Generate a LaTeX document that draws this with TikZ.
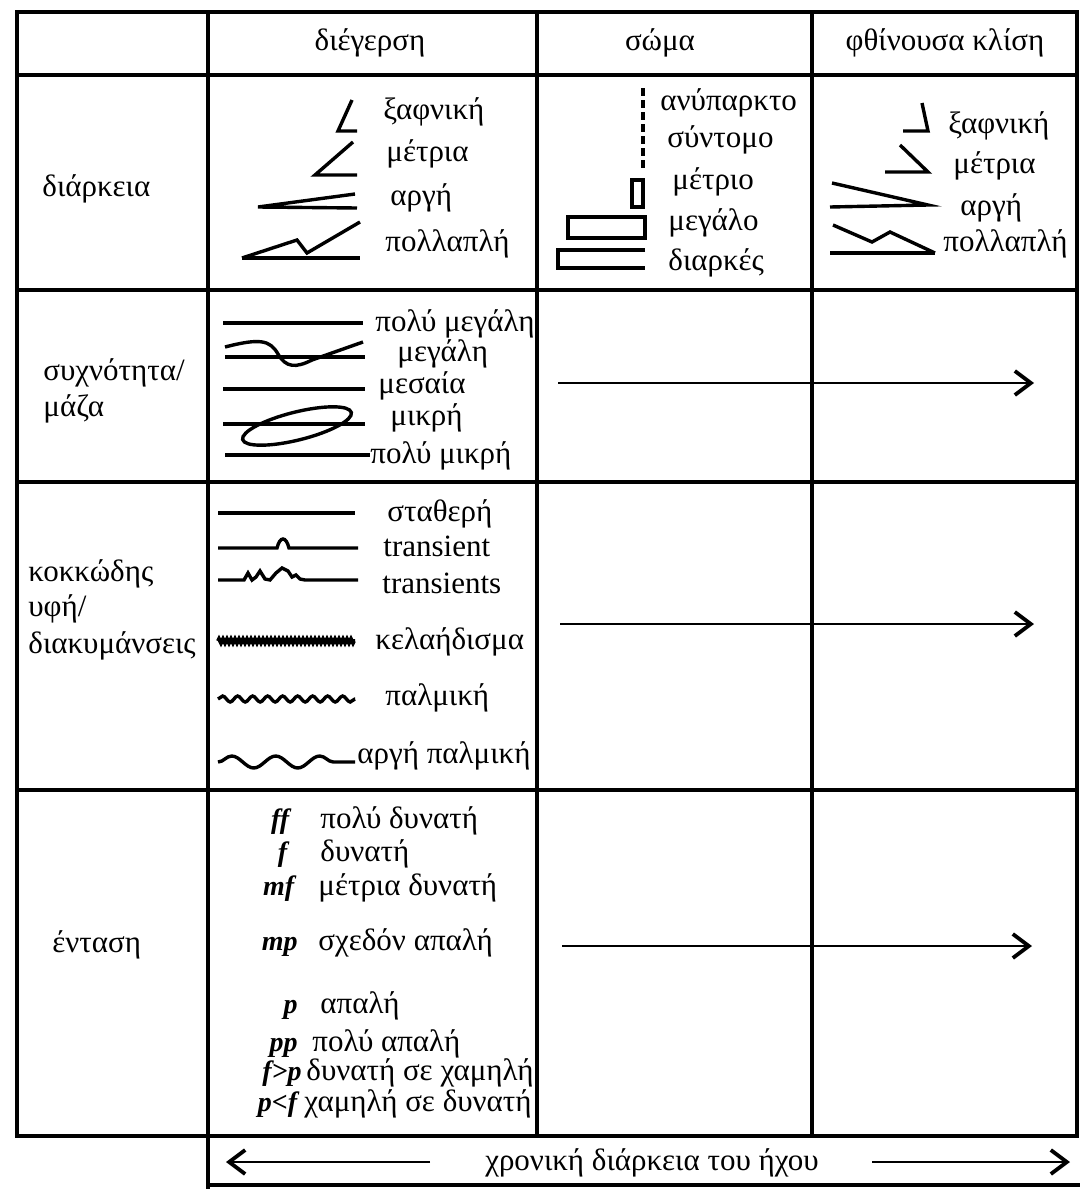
\documentclass[tikz,border=0pt]{standalone}
\usepackage{fontspec}
\setmainfont{Liberation Serif}
\usepackage{tikz}
\usetikzlibrary{arrows.meta,positioning}
\usetikzlibrary{decorations.pathmorphing}
\newcommand\lsz{\fontsize{15.5}{18}\selectfont}
\newcommand\dsz{\fontsize{14}{16}\selectfont}
\newcommand\dyn[1]{\textbf{\textit{#1}}}

\begin{document}
\begin{tikzpicture}[x=0.5pt,y=-0.5pt,
        grid/.style={line width=1.6pt},
        sym/.style={line width=1.7pt},
        flow/.style={line width=1.4pt,-{Straight Barb[length=8pt,width=12pt,line width=1.9pt]}}]%
        \useasboundingbox (0,0) rectangle (1080,1189); %%
        % table
        \draw[grid] (17,12) rectangle (1077,1136); %%
        \draw[grid] (208,12)--(208,1189); %%
        \draw[grid] (537,12)--(537,1136); %%
        \draw[grid] (812,12)--(812,1136); %%
        \draw[grid] (208,1185)--(1080,1185); %%
        \foreach \y in {75,290,482,790}
          \draw[grid] (17,\y)--(1077,\y); %%
        % heads
        \begin{scope}
        \tikzstyle{every node}=[font=\lsz,text height=0.75em,text depth=0.25em,yshift=-1.5pt] %%
        \node (hon) at (370,42)  {διέγερση}; %%
        \node (hbo) at (660,42)  {σώμα}; %%
        \node (hde) at (945,42)  {φθίνουσα κλίση}; %%
        \node (tim) at (652,1162)  {χρονική διάρκεια του ήχου}; %%
        \end{scope}
        \begin{scope}
        \tikzstyle{every node}=[anchor=west,inner sep=0pt,font=\lsz,text height=0.75em,text depth=0.25em,yshift=-1.5pt] %%
        \node (dur) at (42,188)  {διάρκεια}; %%
        \node (frq) at (43,372)  {συχνότητα/}; %%
        \node (frq2) at (43,408)  {μάζα}; %%
        \node (grn) at (28,573)  {κοκκώδης}; %%
        \node (grn2) at (28,608)  {υφή/}; %%
        \node (grn3) at (28,645)  {διακυμάνσεις}; %%
        \node (int) at (52,944)  {ένταση}; %%
        % onset / duration
        \node (d1) at (383,111)  {ξαφνική}; %%
        \node (d2) at (386,153)  {μέτρια}; %%
        \node (d3) at (390,197)  {αργή}; %%
        \node (d4) at (385,243)  {πολλαπλή}; %%
        % body / duration
        \node (b1) at (660,102)  {ανύπαρκτο}; %%
        \node (b2) at (667,139)  {σύντομο}; %%
        \node (b3) at (672,181)  {μέτριο}; %%
        \node (b4) at (668,222)  {μεγάλο}; %%
        \node (b5) at (668,262)  {διαρκές}; %%
        % decay / duration
        \node (e1) at (948,125)  {ξαφνική}; %%
        \node (e2) at (953,165)  {μέτρια}; %%
        \node (e3) at (960,207)  {αργή}; %%
        \node (e4) at (943,243)  {πολλαπλή}; %%
        % onset / frequency
        \node (f1) at (375,323)  {πολύ μεγάλη}; %%
        \node (f2) at (397,353)  {μεγάλη}; %%
        \node (f3) at (378,385)  {μεσαία}; %%
        \node (f4) at (390,417)  {μικρή}; %%
        \node (f5) at (370,455)  {πολύ μικρή}; %%
        % onset / grain
        \node (g1) at (387,513)  {σταθερή}; %%
        \node (g2) at (383,548)  {transient}; %%
        \node (g3) at (382,585)  {transients}; %%
        \node (g4) at (375,641)  {κελαήδισμα}; %%
        \node (g5) at (385,697)  {παλμική}; %%
        \node (g6) at (357,755)  {αργή παλμική}; %%
        % onset / intensity
        \node (i1) at (320,820)  {πολύ δυνατή}; %%
        \node (i2) at (320,853)  {δυνατή}; %%
        \node (i3) at (318,887)  {μέτρια δυνατή}; %%
        \node (i4) at (318,942)  {σχεδόν απαλή}; %%
        \node (i5) at (320,1005)  {απαλή}; %%
        \node (i6) at (312,1043)  {πολύ απαλή}; %%
        \node (i7) at (306,1072)  {δυνατή σε χαμηλή}; %%
        \node (i8) at (304,1103)  {χαμηλή σε δυνατή}; %%
        \end{scope}
        \begin{scope}
        \tikzstyle{every node}=[anchor=east,inner sep=0pt,font=\dsz,text height=0.75em,text depth=0.25em,yshift=-1.5pt] %%
        \node (m1) at (292,820)  {\dyn{ff}}; %%
        \node (m2) at (290,853)  {\dyn{f}}; %%
        \node (m3) at (297,887)  {\dyn{mf}}; %%
        \node (m4) at (298,942)  {\dyn{mp}}; %%
        \node (m5) at (298,1005)  {\dyn{p}}; %%
        \node (m6) at (298,1043)  {\dyn{pp}}; %%
        \node (m7) at (302,1072)  {\dyn{f>p}}; %%
        \node (m8) at (300,1103)  {\dyn{p<f}}; %%
        \end{scope}
        % onset shapes
        \draw[sym] (352,100)--(338,131)--(357,131); %%
        \draw[sym] (353,142)--(315,175)--(357,175); %%
        \draw[sym] (355,194)--(258,207)--(357,208); %%
        \draw[sym] (242,258)--(360,258); %%
        \draw[sym] (242,258)--(297,240)--(307,253)--(360,222); %%
        % body shapes
        \draw[sym,dash pattern=on 4pt off 2pt] (643,88)--(643,170); %%
        \draw[sym] (632,180) rectangle (643,207); %%
        \draw[sym] (568,217) rectangle (645,238); %%
        \draw[sym] (645,250)--(558,250)--(558,268)--(645,268); %%
        % decay shapes
        \draw[sym] (922,103)--(928,131)--(903,131); %%
        \draw[sym] (900,145)--(928,172)--(885,172); %%
        \draw[sym] (832,183)--(928,205)--(830,207); %%
        \draw[sym] (830,253)--(935,253); %%
        \draw[sym] (833,225)--(872,242)--(890,232)--(935,253); %%
        % frequency shapes
        \draw[sym] (223,323)--(363,323); %%
        \draw[sym] (225,357)--(365,357); %%
        \draw[sym] (225,347) .. controls (260,338) and (270,340) .. (278,354)
                 .. controls (286,368) and (296,368) .. (312,360) -- (363,342); %%
        \draw[sym] (223,389)--(365,389); %%
        \draw[sym] (223,424)--(365,424); %%
        \draw[sym,rotate around={14:(297,426)}] (297,426) ellipse [x radius=28pt,y radius=7pt]; %%
        \draw[sym] (225,455)--(370,455); %%
        % grain shapes
        \draw[sym] (218,513)--(355,513); %%
        \draw[sym] (218,548)--(277,548) .. controls (280,536) and (286,536) .. (289,548)--(358,548); %%
        \draw[sym] (218,580)--(244,580)--(248,573)--(252,580)--(256,577)--(260,571)--(265,579)
                 --(270,580)--(276,573)--(282,568)--(288,571)--(292,577)--(296,575)--(300,579)
                 --(305,580)--(358,580); %%
        \draw[sym,line width=2pt,decorate,decoration={zigzag,segment length=2pt,amplitude=1pt}] (218,641)--(355,641); %%
        \draw[sym,decorate,decoration={snake,segment length=7.5pt,amplitude=1.5pt}] (218,699)--(355,699); %%
        \draw[sym,decorate,decoration={snake,segment length=22pt,amplitude=3pt}] (218,762)--(355,762); %%
        % arrows
        \coordinate (a2s) at (558,383); %%
        \coordinate (a2e) at (1034,383); %%
        \coordinate (a3s) at (560,624); %%
        \coordinate (a3e) at (1034,624); %%
        \coordinate (a4s) at (562,946); %%
        \coordinate (a4e) at (1032,946); %%
        \coordinate (tl0) at (430,1162); %%
        \coordinate (tl1) at (226,1162); %%
        \coordinate (tr0) at (872,1162); %%
        \coordinate (tr1) at (1070,1162); %%
        \draw[flow] (a2s)--(a2e); %%
        \draw[flow] (a3s)--(a3e); %%
        \draw[flow] (a4s)--(a4e); %%
        \draw[flow] (tl0)--(tl1); %%
        \draw[flow] (tr0)--(tr1); %%
\end{tikzpicture}
\end{document}
